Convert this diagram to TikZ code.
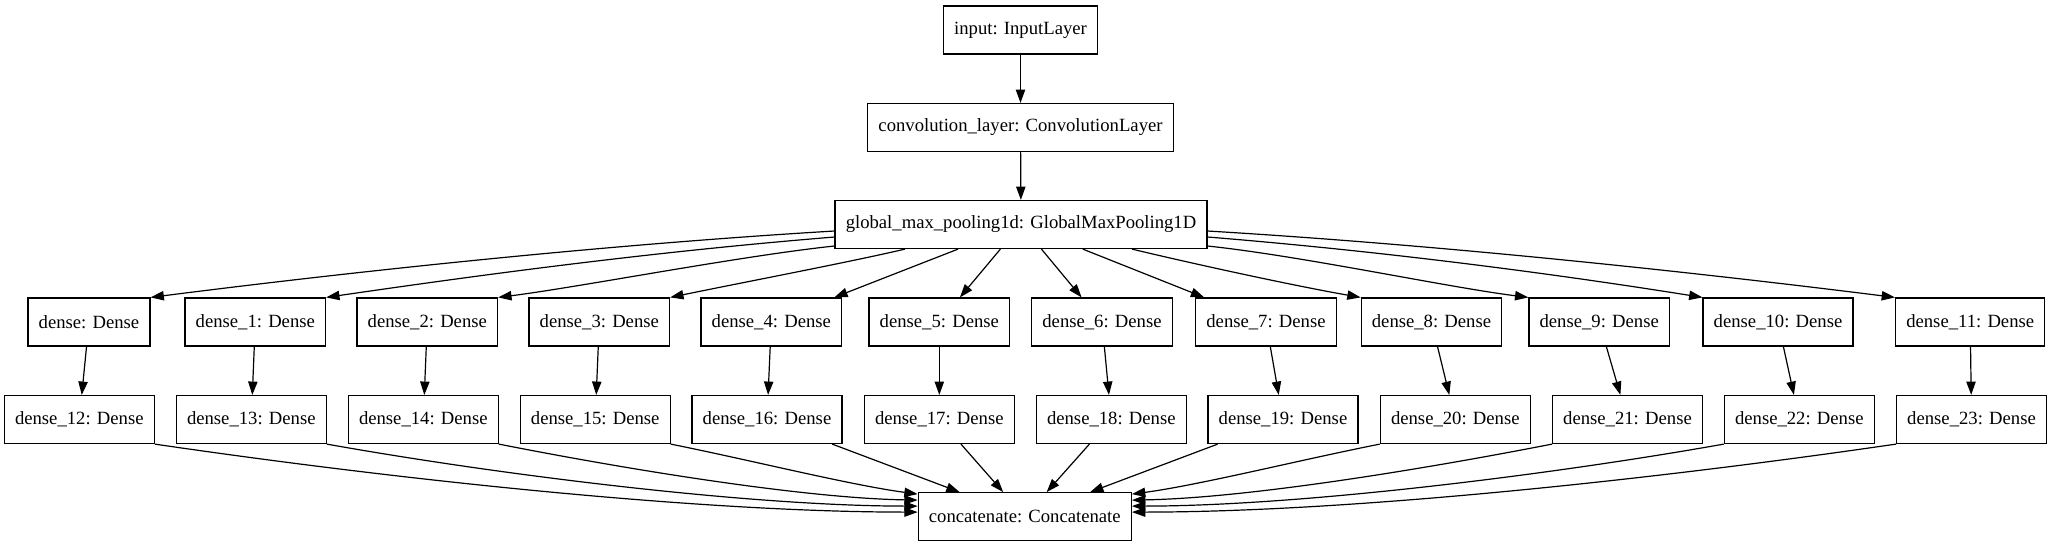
\documentclass[tikz,border=0pt]{standalone}
\usepackage{fontspec}
\setmainfont{Liberation Serif}
\usetikzlibrary{arrows.meta,calc}
\begin{document}
\begin{tikzpicture}[x=0.75pt,y=-0.75pt,
  layer/.style={draw=black,line width=0.9pt,inner xsep=8pt,inner ysep=0pt,minimum height=36pt,font=\fontsize{14pt}{16pt}\selectfont},
  edge/.style={line width=0.9pt,-{Triangle[length=10pt,width=7pt]}}]
\useasboundingbox (0,0) rectangle (2051,547);
% top chain
\node[layer] (input) at (1020.5,30) {input: InputLayer};
\node[layer] (conv) at (1020.5,127.5) {convolution\_layer: ConvolutionLayer};
\node[layer] (gmp) at (1021,224.5) {global\_max\_pooling1d: GlobalMaxPooling1D};
% first dense row
\foreach \n/\x/\t in {0/89/dense, 1/255.3/dense\_1, 2/427.3/dense\_2, 3/599.3/dense\_3,
  4/771.3/dense\_4, 5/939.3/dense\_5, 6/1102/dense\_6, 7/1266/dense\_7,
  8/1431.5/dense\_8, 9/1599.2/dense\_9, 10/1778/dense\_10, 11/1970.2/dense\_11}
  \node[layer] (d\n) at (\x,322) {\t: Dense};
% second dense row
\foreach \n/\x in {12/79.3, 13/251.3, 14/423.3, 15/595.2, 16/767, 17/939.3,
  18/1111.3, 19/1283, 20/1455.3, 21/1627.5, 22/1799.3, 23/1971.5}
  \node[layer] (d\n) at (\x,419.5) {dense\_\n: Dense};
\node[layer] (concat) at (1024.8,516.7) {concatenate: Concatenate};
% edges top
\draw[edge] (input) -- (conv);
\draw[edge] (conv) -- (gmp);
\draw[edge] ($(gmp.west)+(0,6.5)$) .. controls (600,245) and (350,272) .. (d0.north east);
\draw[edge] ($(gmp.west)+(0,12.5)$) .. controls (650,252) and (480,275) .. (d1.north east);
\draw[edge] ($(gmp.west)+(0,21.5)$) .. controls (740,256) and (580,287) .. (d2.north east);
\draw[edge] ($(gmp.south)+(-116,0)$) .. controls (850,262) and (740,283) .. (d3.north east);
\foreach \n in {4,5,6,7} \draw[edge] (gmp) -- (d\n);
\draw[edge] ($(gmp.south)+(111,0)$) .. controls (1190,263) and (1290,285) .. (d8.north west);
\draw[edge] ($(gmp.east)+(0,21.5)$) .. controls (1302,256) and (1446,287) .. (d9.north west);
\draw[edge] ($(gmp.east)+(0,12.5)$) .. controls (1392,252) and (1562,275) .. (d10.north west);
\draw[edge] ($(gmp.east)+(0,6.5)$) .. controls (1442,245) and (1692,272) .. (d11.north west);
% vertical edges
\foreach \a/\b in {0/12,1/13,2/14,3/15,4/16,5/17,6/18,7/19,8/20,9/21,10/22,11/23}
  \draw[edge] (d\a) -- (d\b);
% edges to concatenate
\draw[edge] (d12.south east) .. controls (400,480) and (700,512) .. ($(concat.north west)+(0,20)$);
\draw[edge] (d13.south east) .. controls (500,475) and (750,506) .. ($(concat.north west)+(0,14)$);
\draw[edge] (d14.south east) .. controls (620,468) and (800,498) .. ($(concat.north west)+(0,8)$);
\draw[edge] (d15.south east) .. controls (750,460) and (850,485) .. ($(concat.north west)+(0,2)$);
\foreach \n in {16,17,18,19} \draw[edge] (d\n) -- (concat);
\draw[edge] (d20.south west) .. controls (1299.7,460) and (1199.7,485) .. ($(concat.north east)+(0,2)$);
\draw[edge] (d21.south west) .. controls (1429.7,468) and (1249.7,498) .. ($(concat.north east)+(0,8)$);
\draw[edge] (d22.south west) .. controls (1549.7,475) and (1299.7,506) .. ($(concat.north east)+(0,14)$);
\draw[edge] (d23.south west) .. controls (1649.7,480) and (1349.7,512) .. ($(concat.north east)+(0,20)$);
\end{tikzpicture}
\end{document}
